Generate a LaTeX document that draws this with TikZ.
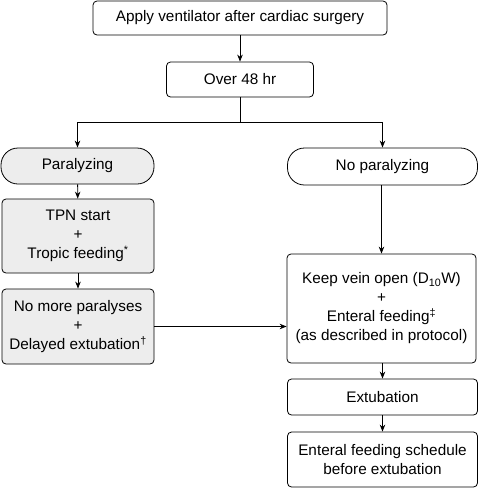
\documentclass[tikz,border=0pt]{standalone}
\usepackage{fontspec}
\setmainfont{Liberation Sans}
\usetikzlibrary{arrows.meta,positioning}
\begin{document}
\begin{tikzpicture}[x=1pt,y=-1pt,
  every node/.style={font=\fontsize{15.3}{19}\selectfont, align=center, inner sep=0pt},
  box/.style={draw, line width=0.8pt, rounded corners=4pt},
  graybox/.style={box, fill=black!7},
  pill/.style={draw, line width=0.8pt, rounded corners=17pt},
  arr/.style={line width=0.8pt, -{Stealth[length=7pt,width=5.5pt]}},
  ln/.style={line width=0.8pt}]
\useasboundingbox (0,0) rectangle (479,488);
\node[box, minimum width=294pt, minimum height=34pt] (top) at (240,18) {Apply ventilator after cardiac surgery};
\node[box, minimum width=147pt, minimum height=35pt] (over) at (240,79.5) {Over 48 hr};
\node[pill, fill=black!7, minimum width=153pt, minimum height=36pt] (par) at (77.5,166) {Paralyzing};
\node[pill, minimum width=190pt, minimum height=37pt] (nopar) at (382.5,166.5) {No paralyzing};
\node[graybox, minimum width=152pt, minimum height=74pt] (tpn) at (78,236) {TPN start\\+\\Tropic feeding\textsuperscript{*}};
\node[graybox, minimum width=152pt, minimum height=75pt] (nomore) at (78,326.5) {No more paralyses\\+\\Delayed extubation\textsuperscript{\dag}};
\node[box, minimum width=189pt, minimum height=109pt] (keep) at (381.5,308.5) {Keep vein open (D\textsubscript{10}W)\\+\\Enteral feeding\textsuperscript{\ddag}\\(as described in protocol)};
\node[box, minimum width=190pt, minimum height=36pt] (ext) at (382.5,397) {Extubation};
\node[box, minimum width=190pt, minimum height=55pt] (sched) at (382.5,459.5) {Enteral feeding schedule\\before extubation};
\coordinate (split) at (240,122);
\coordinate (lft) at (par.north |- split);
\coordinate (rgt) at (nopar.north |- split);
\draw[arr] (top) -- (over);
\draw[ln] (over) -- (split);
\draw[arr] (lft) -- (par);
\draw[arr] (rgt) -- (nopar);
\draw[ln] (lft) -- (rgt);
\draw[arr] (par) -- (tpn);
\draw[arr] (tpn) -- (nomore);
\draw[arr] (nopar.south -| keep.north) -- (keep.north);
\draw[arr] (nomore.east) -- (nomore.east -| keep.west);
\draw[arr] (keep.south -| ext.north) -- (ext);
\draw[arr] (ext) -- (sched);
\end{tikzpicture}
\end{document}
